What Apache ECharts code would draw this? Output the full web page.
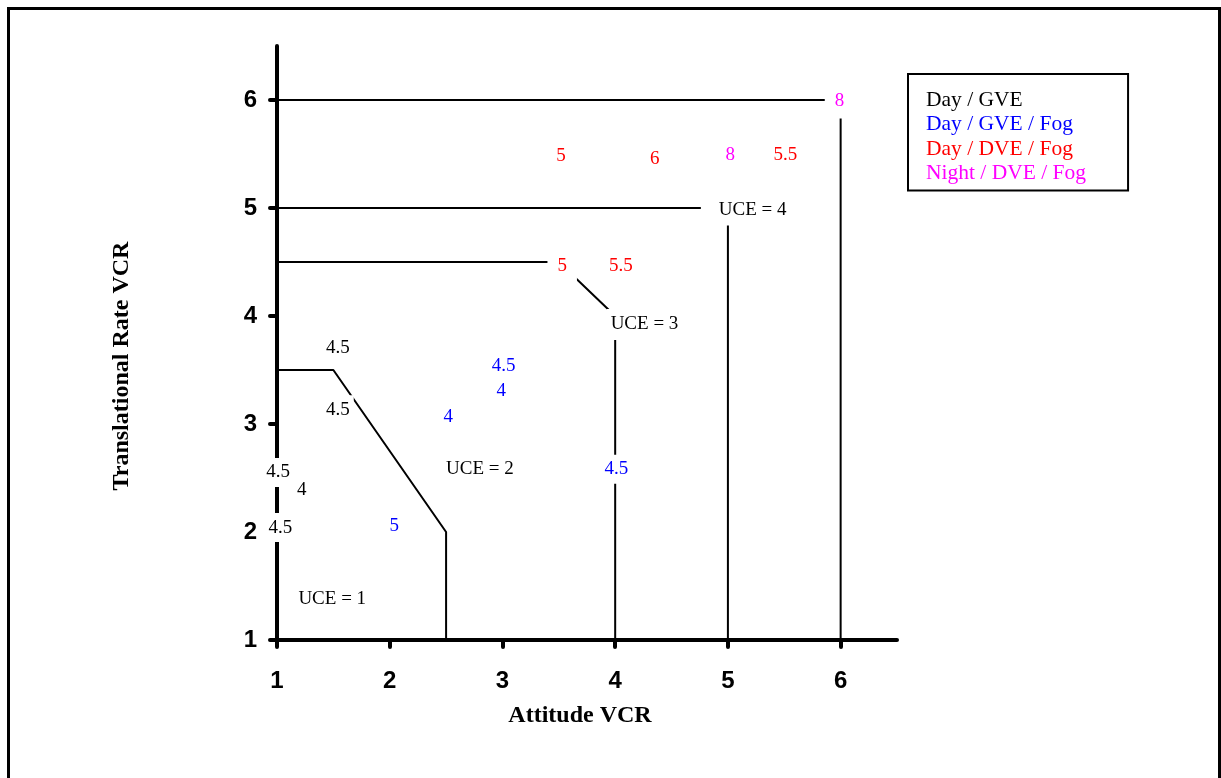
<!DOCTYPE html>
<html>
<head>
<meta charset="utf-8">
<script src="https://cdn.jsdelivr.net/npm/echarts@6/dist/echarts.min.js"></script>
<style>
  html, body { margin: 0; padding: 0; background: #fff; }
  #chart { width: 1221px; height: 778px; }
</style>
</head>
<body>
<div id="chart"></div>
<script>
// ---- data ----
const xTicks = [1, 2, 3, 4, 5, 6];
const yTicks = [1, 2, 3, 4, 5, 6];

// UCE boundary lines [Attitude VCR, Translational Rate VCR]
const uce1Boundary = [[1, 3.5], [1.5, 3.5], [2.5, 2], [2.5, 1]];
const uce2Boundary = [[1, 4.5], [3.5, 4.5], [4, 4], [4, 1]];
const uce3Boundary = [[1, 5], [5, 5], [5, 1]];
const uce4Boundary = [[1, 6], [6, 6], [6, 1]];

// Rating annotations [x, y, rating]
const dayGVE = [[1.54, 3.72, '4.5'], [1.54, 3.15, '4.5'], [1.01, 2.57, '4.5'], [1.22, 2.41, '4'], [1.03, 2.06, '4.5']];
const dayGVEFog = [[3.01, 3.56, '4.5'], [2.99, 3.32, '4'], [2.52, 3.08, '4'], [2.04, 2.07, '5'], [4.01, 2.60, '4.5']];
const dayDVEFog = [[3.52, 5.50, '5'], [4.35, 5.47, '6'], [5.51, 5.51, '5.5'], [3.53, 4.48, '5'], [4.05, 4.48, '5.5']];
const nightDVEFog = [[5.02, 5.51, '8'], [5.99, 6.01, '8']];

// Region labels
const uceLabels = [[1.49, 1.40, 'UCE = 1'], [2.80, 2.60, 'UCE = 2'], [4.26, 3.94, 'UCE = 3'], [5.22, 5.00, 'UCE = 4']];

const seriesNames = ['Day / GVE', 'Day / GVE / Fog', 'Day / DVE / Fog', 'Night / DVE / Fog'];
const seriesColors = ['#000000', '#0000ff', '#ff0000', '#ff00ff'];

// ---- styling ----
const SERIF = "'Liberation Serif', 'Times New Roman', serif";
const SANS = "'Liberation Sans', Arial, sans-serif";
const baseLabel = {
  show: true, position: 'inside', formatter: '{b}', offset: [0, 2],
  fontFamily: SERIF, fontSize: 19, backgroundColor: '#ffffff', padding: [5, 4]
};
// special label boxes (white text boxes that interrupt the boundary lines)
const cornerBox = { padding: [8, 10, 8, 10] };
const uce4Box = { padding: [6, 5, 6, 18], offset: [-6.5, 2] };

function toItems(arr, overrides) {
  return arr.map((d, i) => {
    const item = { value: [d[0], d[1]], name: d[2] };
    if (overrides && overrides[i]) item.label = overrides[i];
    return item;
  });
}

function labelSeries(name, arr, color, overrides) {
  return {
    name: name, type: 'scatter', z: 5, symbol: 'circle', symbolSize: 1,
    itemStyle: { color: 'rgba(0,0,0,0)', opacity: 1 },
    label: Object.assign({}, baseLabel, { color: color }),
    emphasis: { disabled: true },
    data: toItems(arr, overrides)
  };
}

function boundary(arr) {
  return {
    type: 'line', z: 2, symbol: 'none', silent: true,
    lineStyle: { color: '#000', width: 2 },
    data: arr
  };
}

const chart = echarts.init(document.getElementById('chart'), null, { renderer: 'canvas' });
chart.setOption({
  animation: false,
  backgroundColor: '#ffffff',
  grid: { left: 277, right: 324, top: 46, bottom: 138, containLabel: false },
  xAxis: {
    type: 'value', min: 1, max: 6.5, interval: 1,
    name: 'Attitude VCR', nameLocation: 'middle', nameGap: 64,
    nameTextStyle: { fontFamily: SERIF, fontWeight: 'bold', fontSize: 24, color: '#000', padding: [0, 14, 0, 0] },
    splitLine: { show: false },
    axisLine: { onZero: false, lineStyle: { color: '#000', width: 4, cap: 'round' } },
    axisTick: { length: 7, customValues: xTicks, lineStyle: { color: '#000', width: 4, cap: 'round' } },
    axisLabel: { customValues: xTicks, fontFamily: SANS, fontWeight: 'bold', fontSize: 24, color: '#000', margin: 29 }
  },
  yAxis: {
    type: 'value', min: 1, max: 6.5, interval: 1,
    name: 'Translational Rate VCR', nameLocation: 'middle', nameGap: 143,
    nameTextStyle: { fontFamily: SERIF, fontWeight: 'bold', fontSize: 24, color: '#000', padding: [0, 46, 0, 0] },
    splitLine: { show: false },
    axisLine: { onZero: false, lineStyle: { color: '#000', width: 4, cap: 'round' } },
    axisTick: { length: 7, customValues: yTicks, lineStyle: { color: '#000', width: 4, cap: 'round' } },
    axisLabel: { customValues: yTicks, fontFamily: SANS, fontWeight: 'bold', fontSize: 24, color: '#000', margin: 20 }
  },
  legend: {
    orient: 'vertical', left: 908, top: 74,
    itemWidth: 0, itemHeight: 0, itemGap: 0,
    padding: [14, 42, 5, 13],
    borderColor: '#000', borderWidth: 2, backgroundColor: '#fff',
    selectedMode: false,
    textStyle: { fontFamily: SERIF, fontSize: 21.5, lineHeight: 24.4 },
    data: seriesNames.map((n, i) => ({ name: n, icon: 'rect', textStyle: { color: seriesColors[i] } }))
  },
  graphic: [{
    type: 'rect', silent: true, z: -10,
    shape: { x: 8.5, y: 8.5, width: 1211, height: 820 },
    style: { fill: 'none', stroke: '#000', lineWidth: 3 }
  }],
  series: [
    boundary(uce1Boundary),
    boundary(uce2Boundary),
    boundary(uce3Boundary),
    boundary(uce4Boundary),
    labelSeries(seriesNames[0], dayGVE, seriesColors[0]),
    labelSeries(seriesNames[1], dayGVEFog, seriesColors[1]),
    labelSeries(seriesNames[2], dayDVEFog, seriesColors[2], { 3: cornerBox }),
    labelSeries(seriesNames[3], nightDVEFog, seriesColors[3], { 1: cornerBox }),
    labelSeries('UCE', uceLabels, '#000000', { 2: { padding: [6, 4, 6, 4] }, 3: uce4Box })
  ]
});
</script>
</body>
</html>
